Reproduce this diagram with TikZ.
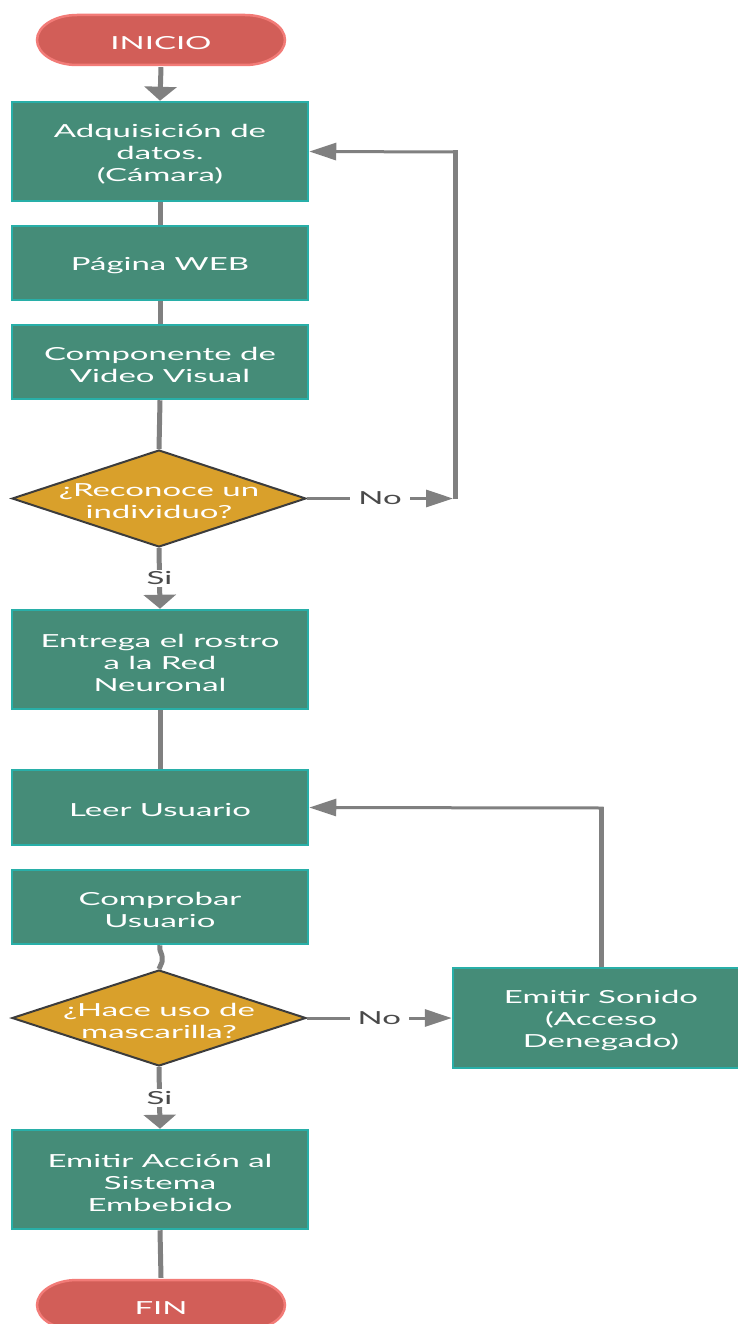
\documentclass[tikz,border=0pt]{standalone}
\usepackage{fontspec}
\newfontfamily\flowfont[FakeStretch=1.83]{Lato}
\usetikzlibrary{arrows.meta,shapes.geometric}
\definecolor{boxfill}{HTML}{458C78}
\definecolor{boxedge}{HTML}{28AFA8}
\definecolor{decfill}{HTML}{D9A02B}
\definecolor{decedge}{HTML}{3C3C3C}
\definecolor{termfill}{HTML}{D25E58}
\definecolor{termedge}{HTML}{F27B77}
\definecolor{wire}{HTML}{808080}
\definecolor{labeltext}{HTML}{4A4A4A}
\begin{document}
\begin{tikzpicture}[x=1pt,y=-1pt,
  txt/.style={font=\flowfont\fontsize{18}{22}\selectfont, text=white, align=center,
    inner sep=0pt, yshift=-3pt},
  stepbox/.style={rectangle, fill=boxfill, draw=boxedge, line width=2.5pt,
    minimum width=296pt, inner sep=0pt, label={[txt]center:{#1}}},
  decision/.style={diamond, fill=decfill, draw=decedge, line width=2pt,
    minimum width=294pt, minimum height=97pt, inner sep=0pt, label={[txt]center:{#1}}},
  terminal/.style={rectangle, minimum width=252pt, minimum height=54pt, inner sep=0pt,
    label={[txt]center:{#1}},
    path picture={
      \draw[fill=termfill, draw=termedge, line width=2.5pt]
        ([xshift=42pt,yshift=-2pt]path picture bounding box.north west)
        -- ([xshift=-42pt,yshift=-2pt]path picture bounding box.north east)
        arc[start angle=90, end angle=-90, x radius=40pt, y radius=25pt]
        -- ([xshift=42pt,yshift=2pt]path picture bounding box.south west)
        arc[start angle=270, end angle=90, x radius=40pt, y radius=25pt]
        -- cycle;}},
  vwire/.style={draw=wire, line width=5pt},
  hwire/.style={draw=wire, line width=3pt},
  vtip/.style={-{Triangle[width=32pt,length=14pt]}},
  htip/.style={-{Triangle[width=17pt,length=27pt]}},
  cond/.style={font=\flowfont\fontsize{18}{22}\selectfont, text=labeltext,
    fill=white, inner xsep=8pt, inner ysep=2pt},
]
\path[use as bounding box, clip] (0,0) rectangle (738,1324);

% main column
\node[terminal={INICIO}] (ini) at (161,40) {};
\node[stepbox={Adquisición de\\datos.\\(Cámara)}, minimum height=99pt] (b1) at (160,151.5) {};
\node[stepbox={Página WEB}, minimum height=74pt] (b2) at (160,263) {};
\node[stepbox={Componente de\\Video Visual}, minimum height=74pt] (b3) at (160,362) {};
\node[decision={¿Reconoce un\\individuo?}] (d1) at (159,498.5) {};
\node[stepbox={Entrega el rostro\\a la Red\\Neuronal}, minimum height=99pt] (b4) at (160,659.5) {};
\node[stepbox={Leer Usuario}, minimum height=75pt] (b5) at (160,807.5) {};
\node[stepbox={Comprobar\\Usuario}, minimum height=74pt] (b6) at (160,907) {};
\node[decision={¿Hace uso de\\mascarilla?}, minimum height=96pt] (d2) at (159,1018) {};
\node[stepbox={Emitir Acción al\\Sistema\\Embebido}, minimum height=99pt] (b8) at (160,1179.5) {};
\node[terminal={FIN}] (fin) at (161,1305) {};

% side branch
\node[stepbox={Emitir Sonido\\(Acceso\\Denegado)}, minimum height=100pt] (b7) at (601,1018) {};

% bends of the return loops
\coordinate (r1) at (453,498.5);
\coordinate (r1v) at (455,499);
\coordinate (r2v) at (455,150.5);
\coordinate (r2h) at (457.5,152);
\coordinate (k1v) at (601,806.5);
\coordinate (k1h) at (603.5,808);

% straight flow
\draw[vwire,vtip] (ini.south) -- (b1.north);
\draw[vwire] (b1.south) -- (b2.north);
\draw[vwire] (b2.south) -- (b3.north);
\draw[vwire] (b3.south) -- (d1.north);
\draw[vwire,vtip] (d1.south) -- node[cond]{Si} (b4.north);
\draw[vwire] (b4.south) -- (b5.north);
\draw[vwire] (b6.south) .. controls (159,955) and (163,950) .. (162,962) -- (d2.north);
\draw[vwire,vtip] (d2.south) -- node[cond]{Si} (b8.north);
\draw[vwire] (b8.south) -- (fin.north);

% "No" branches
\draw[hwire,htip] (d1.east) -- node[cond]{No} (r1);
\draw[vwire] (r1v) -- (r2v);
\draw[hwire,htip] (r2h) -- (b1.east);
\draw[hwire,htip] (d2.east) -- node[cond]{No} (b7.west);
\draw[vwire] (b7.north) -- (k1v);
\draw[hwire,htip] (k1h) -- (b5.east);
\end{tikzpicture}
\end{document}
